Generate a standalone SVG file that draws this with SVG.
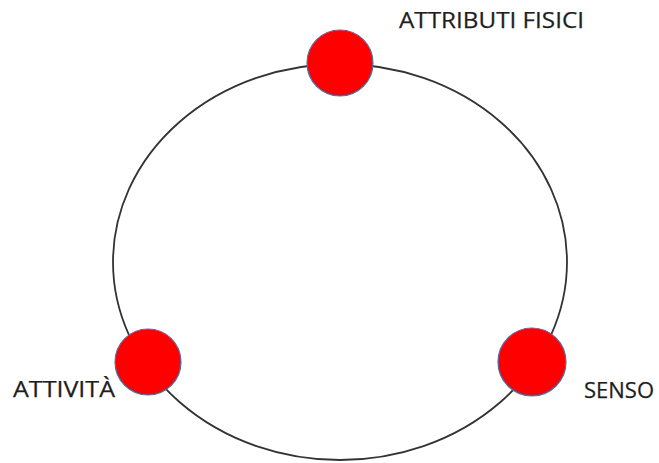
<svg xmlns="http://www.w3.org/2000/svg" width="659" height="463" viewBox="0 0 659 463">
<style>
.node{fill:#ff0000;stroke:#4f6fa8;stroke-width:1.2}
.lbl{font-family:"Open Sans","Liberation Sans",Arial,sans-serif;font-size:22px;fill:#1e1e1e;stroke:#1e1e1e;stroke-width:0.25}
.ring{fill:none;stroke:#333;stroke-width:1.8}
</style>
<rect width="659" height="463" fill="#fff"/>
<g id="connectors">
<ellipse class="ring" cx="340" cy="262" rx="227" ry="198"/>
</g>
<g id="attributi-fisici">
<circle class="node" cx="340" cy="63" r="33"/>
<text class="lbl" x="399" y="28" textLength="185" lengthAdjust="spacingAndGlyphs">ATTRIBUTI FISICI</text>
</g>
<g id="attivita">
<circle class="node" cx="148" cy="362" r="33"/>
<text class="lbl" x="13" y="397" textLength="102" lengthAdjust="spacingAndGlyphs">ATTIVITÀ</text>
</g>
<g id="senso">
<circle class="node" cx="532" cy="362" r="34"/>
<text class="lbl" x="584" y="398" textLength="70" lengthAdjust="spacingAndGlyphs">SENSO</text>
</g>
</svg>
